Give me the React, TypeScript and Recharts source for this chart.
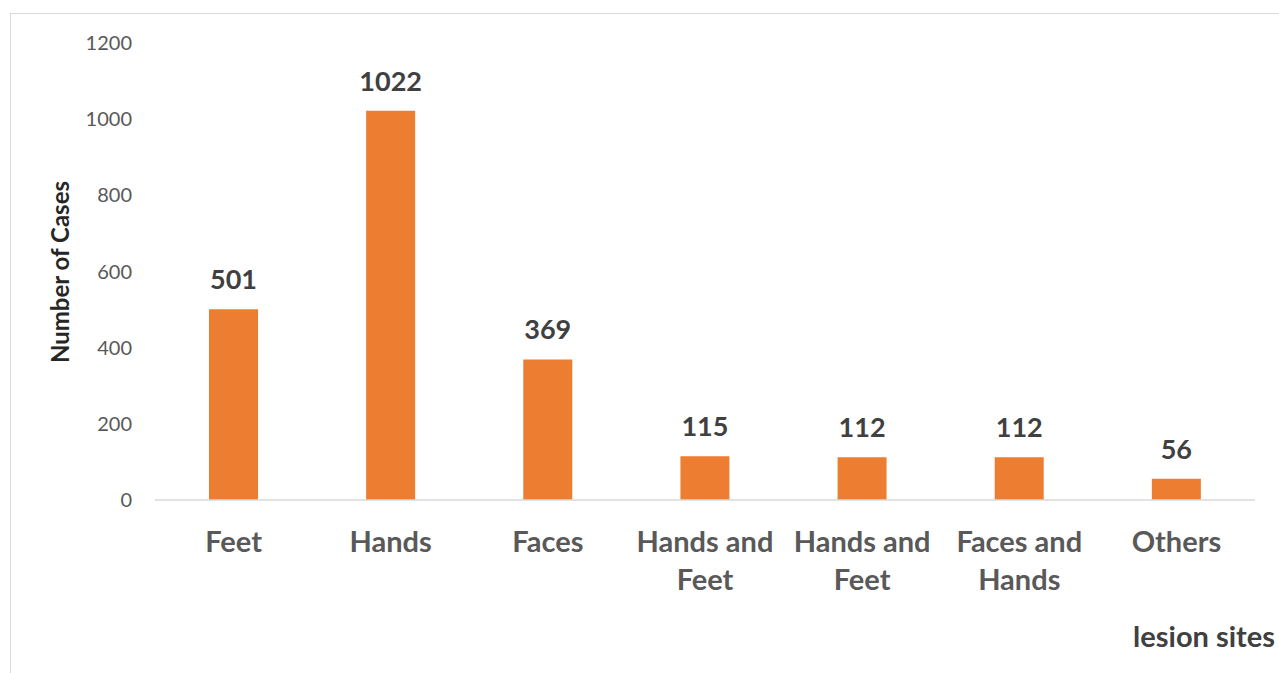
import { BarChart, Bar, XAxis, YAxis, LabelList, Label } from 'recharts';

const sites = ['Feet', 'Hands', 'Faces', 'Hands and\nFeet', 'Hands and\nFeet', 'Faces and\nHands', 'Others'];
const cases = [501, 1022, 369, 115, 112, 112, 56];
const yTicks = [0, 200, 400, 600, 800, 1000, 1200];

const data = sites.map((s, i) => ({ site: s, cases: cases[i] }));

const FONT = 'Lato, "Open Sans", sans-serif';

function SiteTick(props: any) {
  const { x, y, payload } = props;
  const lines = String(payload.value).split('\n');
  return (
    <text x={x} y={y} textAnchor="middle" fill="#595959" fontFamily={FONT} fontWeight={700} fontSize={29}>
      {lines.map((l, i) => (
        <tspan key={i} x={x} y={y + 52 + i * 38}>{l}</tspan>
      ))}
    </text>
  );
}

export default function App() {
  return (
    <div style={{ position: 'absolute', left: 0, top: 0, width: 1279, height: 673, overflow: 'hidden', background: '#fff' }}>
      <div style={{ position: 'absolute', left: 10, top: 13, width: 1400, height: 800, border: '1.5px solid #d9d9d9' }} />
      <BarChart
        width={1279}
        height={673}
        data={data}
        margin={{ top: 43, right: 24, left: 0, bottom: 0 }}
        style={{ position: 'absolute', left: 0, top: 0 }}
      >
        <XAxis
          dataKey="site"
          height={173}
          axisLine={{ stroke: '#d9d9d9', strokeWidth: 1.5 }}
          tickLine={false}
          tickSize={0}
          tickMargin={0}
          interval={0}
          tick={<SiteTick />}
        >
          <Label
            content={() => (
              <text x={1275} y={647} textAnchor="end" fill="#404040" fontFamily={FONT} fontWeight={700} fontSize={29}>
                lesion sites
              </text>
            )}
          />
        </XAxis>
        <YAxis
          width={155}
          domain={[0, 1200]}
          ticks={yTicks}
          axisLine={false}
          tickLine={false}
          tickSize={0}
          tickMargin={23}
          tick={{ fill: '#595959', fontFamily: FONT, fontSize: 20 }}
        >
          <Label
            content={() => (
              <text
                x={69}
                y={272}
                transform="rotate(-90 69 272)"
                textAnchor="middle"
                fill="#262626"
                fontFamily={FONT}
                fontWeight={700}
                fontSize={24}
              >
                Number of Cases
              </text>
            )}
          />
        </YAxis>
        <Bar dataKey="cases" fill="#ED7D31" barSize={49} isAnimationActive={false}>
          <LabelList
            dataKey="cases"
            position="top"
            offset={20}
            fill="#404040"
            fontFamily={FONT}
            fontWeight={700}
            fontSize={27}
          />
        </Bar>
      </BarChart>
    </div>
  );
}
